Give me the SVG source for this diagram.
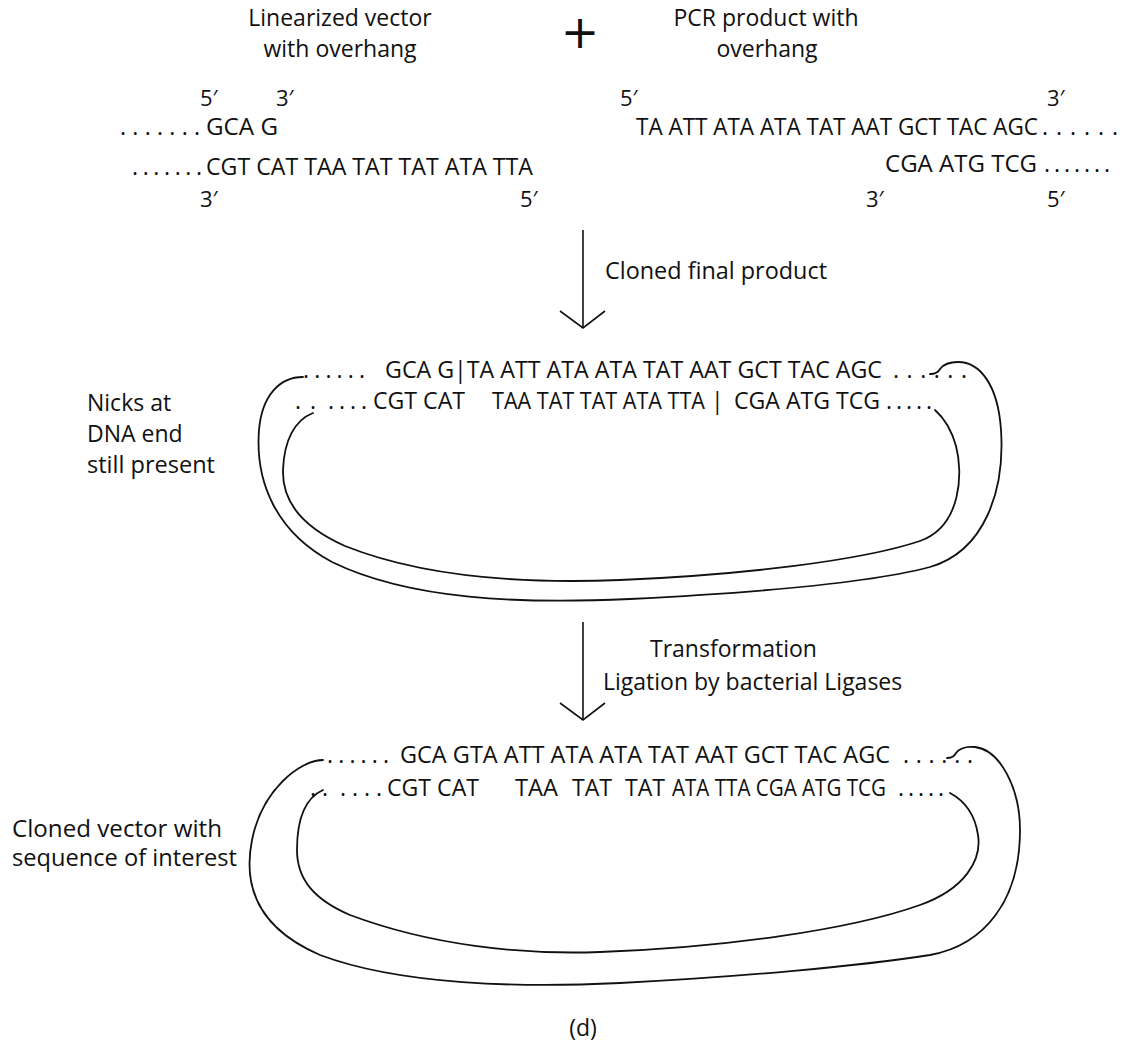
<svg xmlns="http://www.w3.org/2000/svg" width="1127" height="1053" viewBox="0 0 1127 1053">
<style>
text{font-family:"Open Sans","Noto Sans","DejaVu Sans",sans-serif;fill:#111}
.l{font-size:23px}
.s{font-size:23px}
.p{font-size:22px}
.line{fill:none;stroke:#111;stroke-width:1.8;stroke-linecap:round;stroke-linejoin:round}
.arr{fill:none;stroke:#111;stroke-width:1.6}
</style>
<rect width="1127" height="1053" fill="#fff"/>
<g id="title-vector">
<text class="l" x="340" y="26" text-anchor="middle">Linearized vector</text>
<text class="l" x="340" y="57" text-anchor="middle">with overhang</text>
</g>
<g id="plus"><text x="580" y="48" text-anchor="middle" style="font-size:46px;font-family:'DejaVu Sans',sans-serif">+</text></g>
<g id="title-pcr">
<text class="l" x="766" y="26" text-anchor="middle">PCR product with</text>
<text class="l" x="767" y="57" text-anchor="middle">overhang</text>
</g>
<g id="vector-seq">
<text class="p" x="200" y="106">5′</text>
<text class="p" x="276" y="106">3′</text>
<text class="s" x="120" y="135" textLength="80" lengthAdjust="spacing">.......</text>
<text class="s" x="206" y="135" textLength="72" lengthAdjust="spacingAndGlyphs">GCA G</text>
<text class="s" x="132" y="175" textLength="70" lengthAdjust="spacing">.......</text>
<text class="s" x="206" y="175" textLength="327" lengthAdjust="spacingAndGlyphs">CGT CAT TAA TAT TAT ATA TTA</text>
<text class="p" x="200" y="207">3′</text>
<text class="p" x="520" y="207">5′</text>
</g>
<g id="pcr-seq">
<text class="p" x="620" y="106">5′</text>
<text class="p" x="1047" y="106">3′</text>
<text class="s" x="636" y="135" textLength="402" lengthAdjust="spacingAndGlyphs">TA ATT ATA ATA TAT AAT GCT TAC AGC</text>
<text class="s" x="1042" y="135" textLength="76" lengthAdjust="spacing">......</text>
<text class="s" x="885" y="172" textLength="152" lengthAdjust="spacingAndGlyphs">CGA ATG TCG</text>
<text class="s" x="1044" y="172" textLength="66" lengthAdjust="spacing">.......</text>
<text class="p" x="866" y="207">3′</text>
<text class="p" x="1047" y="207">5′</text>
</g>
<g id="connectors">
<line class="arr" x1="583" y1="230" x2="583" y2="328"/>
<polyline class="arr" points="560,311 583,328 605,311"/>
<line class="arr" x1="583" y1="622" x2="583" y2="720"/>
<polyline class="arr" points="560,703 583,720 605,703"/>
</g>
<g id="step1-label"><text class="l" x="605" y="279" textLength="222" lengthAdjust="spacingAndGlyphs">Cloned final product</text></g>
<g id="step2-label">
<text class="l" x="650" y="657" textLength="167" lengthAdjust="spacingAndGlyphs">Transformation</text>
<text class="l" x="603" y="690">Ligation by bacterial Ligases</text>
</g>
<g id="nicked-plasmid">
<path class="line" d="M303,377 C280,377 262,395 259,430 C255,482 276,532 332,562 C410,600 520,604 630,599 C750,593 870,583 930,567 C985,551 1005,490 1001,430 C998,385 980,362 958,362 C948,362 943,365 940,369 C938,373 934,374 930,374"/>
<path class="line" d="M313,413 C295,420 284,440 283,470 C282,500 300,526 345,546 C420,576 520,584 620,580 C740,575 860,561 920,541 C962,526 963,472 956,446 C951,428 944,418 935,410"/>
<text class="s" x="303" y="378" textLength="62" lengthAdjust="spacing">......</text>
<text class="s" x="385" y="378" textLength="497" lengthAdjust="spacingAndGlyphs">GCA G|TA ATT ATA ATA TAT AAT GCT TAC AGC</text>
<text class="s" x="893" y="378" textLength="74" lengthAdjust="spacing">......</text>
<text class="s" x="295" y="409">.</text>
<text class="s" x="310" y="409">.</text>
<text class="s" x="328" y="409" textLength="39" lengthAdjust="spacing">....</text>
<text class="s" x="373" y="409" textLength="92" lengthAdjust="spacingAndGlyphs">CGT CAT</text>
<text class="s" x="492" y="409" textLength="213" lengthAdjust="spacingAndGlyphs">TAA TAT TAT ATA TTA</text>
<text class="s" x="711" y="409">|</text>
<text class="s" x="734" y="409" textLength="146" lengthAdjust="spacingAndGlyphs">CGA ATG TCG</text>
<text class="s" x="886" y="409" textLength="46" lengthAdjust="spacing">.....</text>
</g>
<g id="nicks-label">
<text class="l" x="87" y="411">Nicks at</text>
<text class="l" x="87" y="442">DNA end</text>
<text class="l" x="87" y="473" textLength="128" lengthAdjust="spacingAndGlyphs">still present</text>
</g>
<g id="cloned-plasmid">
<path class="line" d="M323,760 C300,760 262,790 252,840 C242,890 262,930 320,955 C400,985 520,988 620,983 C740,977 860,966 930,955 C985,945 1020,900 1020,830 C1020,788 1000,750 975,747 C965,746 959,749 956,753 C954,757 951,758 947,758"/>
<path class="line" d="M323,790 C305,798 297,820 297,850 C297,880 315,900 350,915 C430,945 520,955 600,952 C720,948 850,930 920,905 C965,889 982,860 978,835 C975,815 965,801 950,793"/>
<text class="s" x="327" y="763" textLength="62" lengthAdjust="spacing">......</text>
<text class="s" x="400" y="763" textLength="490" lengthAdjust="spacingAndGlyphs">GCA GTA ATT ATA ATA TAT AAT GCT TAC AGC</text>
<text class="s" x="903" y="763" textLength="70" lengthAdjust="spacing">......</text>
<text class="s" x="310" y="796">.</text>
<text class="s" x="322" y="796">.</text>
<text class="s" x="340" y="796" textLength="42" lengthAdjust="spacing">....</text>
<text class="s" x="387" y="796" textLength="92" lengthAdjust="spacingAndGlyphs">CGT CAT</text>
<text class="s" x="515" y="796" textLength="43" lengthAdjust="spacingAndGlyphs">TAA</text>
<text class="s" x="572" y="796" textLength="40" lengthAdjust="spacingAndGlyphs">TAT</text>
<text class="s" x="625" y="796" textLength="40" lengthAdjust="spacingAndGlyphs">TAT</text>
<text class="s" x="672" y="796" textLength="214" lengthAdjust="spacingAndGlyphs">ATA TTA CGA ATG TCG</text>
<text class="s" x="898" y="796" textLength="46" lengthAdjust="spacing">.....</text>
</g>
<g id="cloned-label">
<text class="l" x="12" y="837" textLength="210" lengthAdjust="spacingAndGlyphs">Cloned vector with</text>
<text class="l" x="12" y="866" textLength="225" lengthAdjust="spacingAndGlyphs">sequence of interest</text>
</g>
<g id="caption"><text class="l" x="583" y="1036" text-anchor="middle">(d)</text></g>
</svg>
